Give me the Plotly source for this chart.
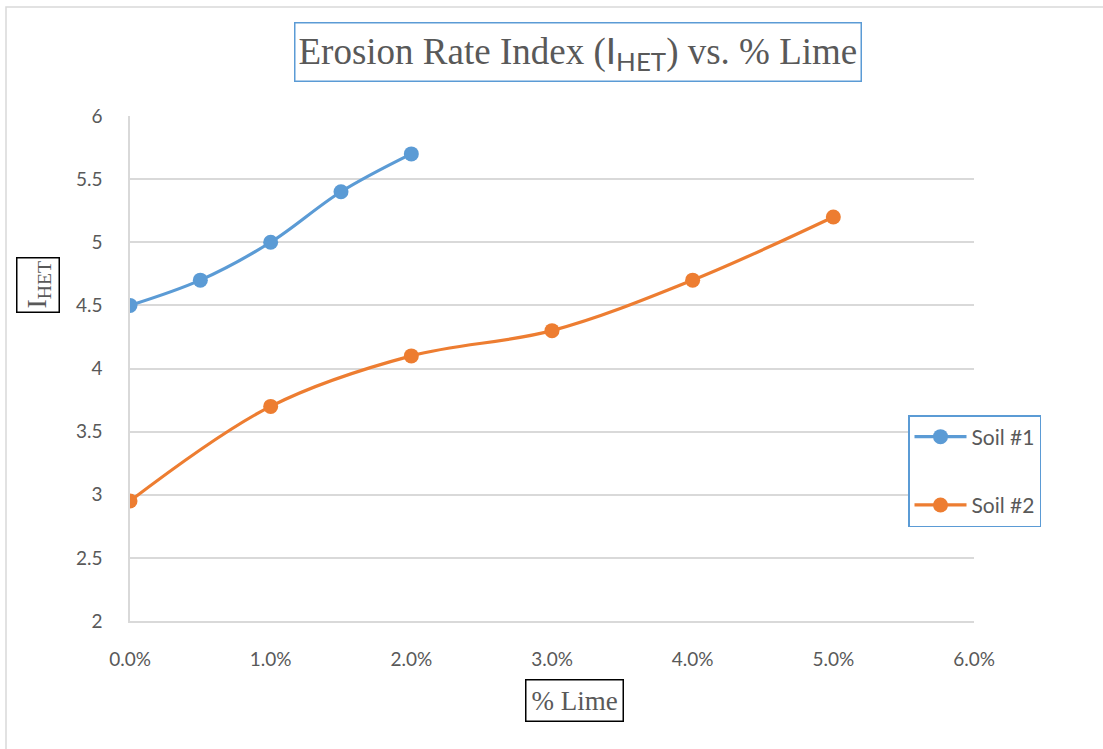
import plotly.graph_objects as go

# Lime content (fraction) and erosion rate index for each soil
soil1_lime = [0.0, 0.005, 0.01, 0.015, 0.02]
soil1_ihet = [4.5, 4.7, 5.0, 5.4, 5.7]
soil2_lime = [0.0, 0.01, 0.02, 0.03, 0.04, 0.05]
soil2_ihet = [2.95, 3.7, 4.1, 4.3, 4.7, 5.2]

BLUE = "#5B9BD5"
ORANGE = "#ED7D31"
GRID = "#D9D9D9"
TXT = "#595959"
SANS = "Lato, 'Open Sans', sans-serif"
SERIF = "'Liberation Serif', 'Times New Roman', serif"

W, H = 1103, 749
L, R, T, B = 130, 129, 116, 128
pw, ph = W - L - R, H - T - B


def px_x(p):
    return (p - L) / pw


def px_y(p):
    return (H - B - p) / ph


fig = go.Figure()
fig.add_trace(go.Scatter(
    x=soil1_lime, y=soil1_ihet, name="Soil #1", mode="lines+markers",
    line=dict(color=BLUE, width=3.2, shape="spline"),
    marker=dict(color=BLUE, size=15), legendgroup="a"))
fig.add_trace(go.Scatter(
    x=soil2_lime, y=soil2_ihet, name="Soil #2", mode="lines+markers",
    line=dict(color=ORANGE, width=3.2, shape="spline"),
    marker=dict(color=ORANGE, size=15), legendgroup="b"))

fig.update_layout(
    width=W, height=H,
    margin=dict(l=L, r=R, t=T, b=B),
    paper_bgcolor="white", plot_bgcolor="white",
    font=dict(family=SANS, color=TXT, size=19),
    showlegend=True,
    legend=dict(
        x=px_x(908), y=px_y(415), xanchor="left", yanchor="top",
        bordercolor=BLUE, borderwidth=1.5,
        font=dict(family=SANS, size=21, color=TXT),
        traceorder="grouped", tracegroupgap=38,
        itemwidth=52,
    ),
    xaxis=dict(
        range=[0, 0.06], dtick=0.01, tickformat=".1%",
        showgrid=False, showline=True, linecolor=GRID, linewidth=1.5,
        zeroline=False, ticks="", ticklabelstandoff=20,
        tickfont=dict(family=SANS, size=19, color=TXT),
    ),
    yaxis=dict(
        range=[2, 6], dtick=0.5,
        showgrid=True, gridcolor=GRID, gridwidth=1.5,
        showline=True, linecolor=GRID, linewidth=1.5,
        zeroline=False, ticks="", ticklabelstandoff=22,
        tickfont=dict(family=SANS, size=19, color=TXT),
    ),
)

# Outer chart border (light gray)
fig.add_shape(type="rect", xref="paper", yref="paper",
              x0=px_x(6), x1=px_x(W + 20), y0=px_y(H + 20), y1=px_y(7),
              line=dict(color=GRID, width=1.5), fillcolor="rgba(0,0,0,0)",
              layer="below")

# Chart title in a blue frame
fig.add_annotation(
    xref="paper", yref="paper", x=px_x(578), y=px_y(52),
    xanchor="center", yanchor="middle", showarrow=False,
    text="Erosion Rate Index (<span style='font-family:Lato, sans-serif'>I<sub>HET</sub></span>) vs. % Lime",
    font=dict(family=SERIF, size=37, color=TXT),
    bordercolor=BLUE, borderwidth=1.5, borderpad=3, bgcolor="white")

# X axis title in a black frame
fig.add_annotation(
    xref="paper", yref="paper", x=px_x(574), y=px_y(700),
    xanchor="center", yanchor="middle", showarrow=False,
    text="% Lime",
    font=dict(family=SERIF, size=27, color=TXT),
    bordercolor="black", borderwidth=1.5, borderpad=5, bgcolor="white")

# Y axis title in a black frame
fig.add_annotation(
    xref="paper", yref="paper", x=px_x(38), y=px_y(285),
    xanchor="center", yanchor="middle", showarrow=False, textangle=-90,
    text="I<sub>HET</sub>",
    font=dict(family=SERIF, size=28, color=TXT),
    bordercolor="black", borderwidth=1.5, borderpad=3, bgcolor="white")

fig.write_html("out.html")
